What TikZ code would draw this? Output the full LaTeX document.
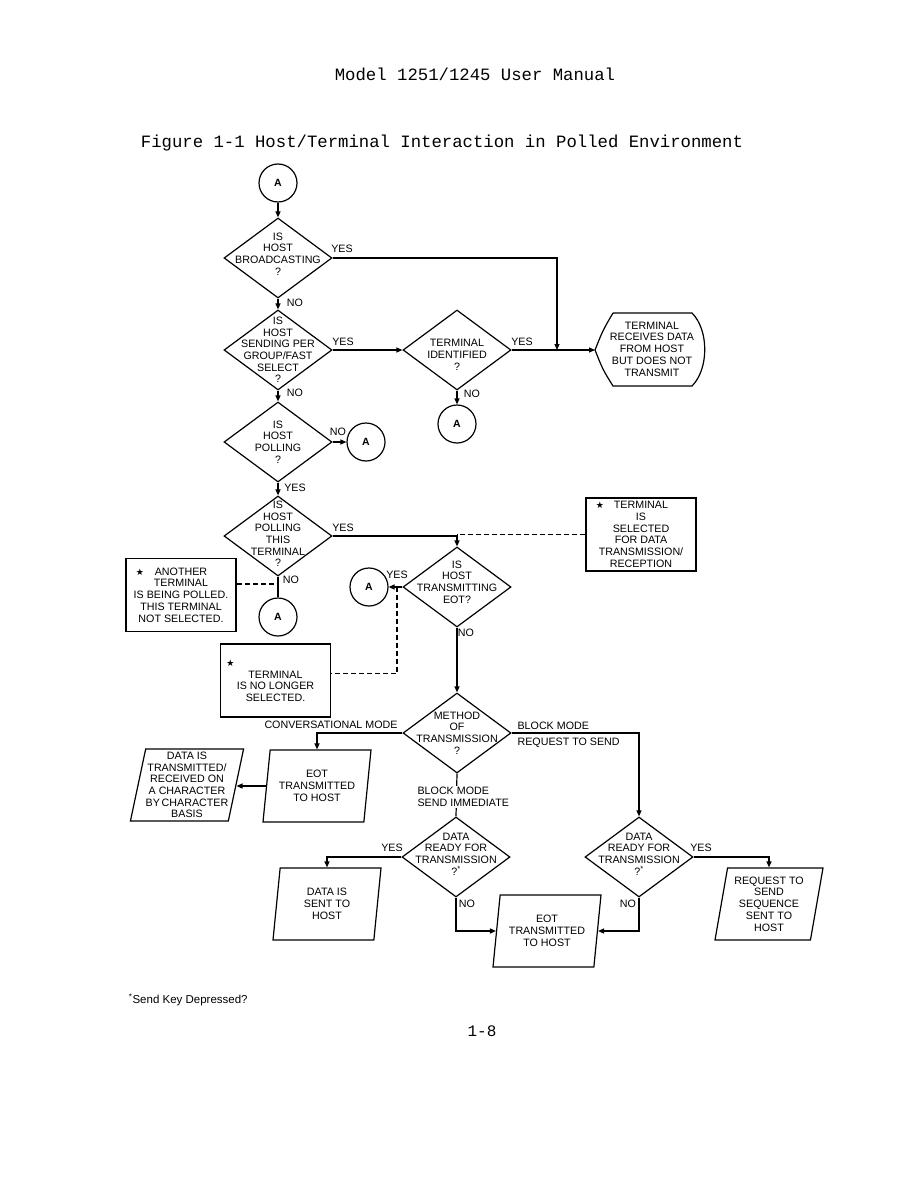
\documentclass[tikz,border=0pt]{standalone}
\usepackage{fontspec}
\setmainfont{Liberation Sans}
\newfontfamily\typew{Liberation Mono}
\newfontfamily\symf{DejaVu Sans}
\usepackage{tikz}
\usetikzlibrary{arrows.meta,shapes.geometric,calc}
\newcommand{\tstar}{{\symf\fontsize{9}{9}\selectfont ★}}

\begin{document}
\begin{tikzpicture}[x=1pt,y=-1pt,line width=1.2pt,>={Triangle[length=6pt,width=5pt]}]
    \tikzset{dec/.style={draw,diamond,minimum width=108pt,minimum height=80pt,inner sep=0pt},
      dtxt/.style={font=\fontsize{10.7}{11.7}\selectfont,align=center,inner sep=0pt},
      con/.style={draw,circle,minimum size=38pt,inner sep=0pt,font=\fontsize{10.5}{10}\selectfont\bfseries},
      io/.style={draw,trapezium,trapezium left angle=77,trapezium right angle=103,trapezium stretches body,
        minimum width=108pt,minimum height=72pt,inner sep=0pt,font=\fontsize{10.7}{11.7}\selectfont,align=center},
      note/.style={draw,rectangle,minimum width=110pt,minimum height=73pt,inner sep=0pt,
        font=\fontsize{10.7}{11.7}\selectfont,align=center},
      lbl/.style={font=\fontsize{10.7}{11.7}\selectfont,inner sep=0pt},
      brk/.style={dash pattern=on 5pt off 3pt}}
    \useasboundingbox (0,0) rectangle (918,1188);
    % page head
    \node[font=\typew\fontsize{17.3}{20}\selectfont] (hdr) at (475,74) {Model 1251/1245 User Manual};
    \node[font=\typew\fontsize{17.3}{20}\selectfont] (cap) at (442,143) {Figure 1-1 Host/Terminal Interaction in Polled Environment};
    % upper decisions
    \node[con] (a1) at (278,183) {A};
    \node[dec] (bcast) at (278,258) {};
    \node[dtxt,yshift=4pt] (bcastT) at (bcast) {IS\\HOST\\BROADCASTING\\?};
    \node[dec] (group) at (278,350) {};
    \node[dtxt] (groupT) at (group) {IS\\HOST\\SENDING PER\\GROUP/FAST\\SELECT\\?};
    \node[dec] (ident) at (457,350) {};
    \node[dtxt,yshift=-5pt] (identT) at (ident) {TERMINAL\\IDENTIFIED\\?};
    \coordinate (recvtip) at (595,350);
    \coordinate (join) at (557,350);
    \node[dtxt] (recvT) at (652,349) {TERMINAL\\RECEIVES DATA\\FROM HOST\\BUT DOES NOT\\TRANSMIT};
    \draw (613,313) -- (692,313) .. controls (709,330) and (709,369) .. (692,386) -- (613,386)
      .. controls (603,370) .. (recvtip) .. controls (603,330) .. (613,313);
    \node[con] (a2) at (457,424) {A};
    \node[dec] (poll) at (278,442) {};
    \node[dtxt] (pollT) at (poll) {IS\\HOST\\POLLING\\?};
    \node[con] (a3) at (366,442) {A};
    \node[dec] (pollthis) at (278,536) {};
    \node[dtxt,yshift=2pt] (pollthisT) at (pollthis) {IS\\HOST\\POLLING\\THIS\\TERMINAL\\?};
    \node[con] (a4) at (278,617) {A};
    \coordinate (noJ) at (278,584);
    \node[note] (another) at (181,595) {\llap{\tstar\hspace{11pt}}ANOTHER\\TERMINAL\\IS BEING POLLED.\\THIS TERMINAL\\NOT SELECTED.};
    \node[note] (selected) at (641,534.5) {\llap{\tstar\hspace{10pt}}TERMINAL\\IS\\SELECTED\\FOR DATA\\TRANSMISSION/\\RECEPTION};
    \node[dec] (eot) at (457,587) {};
    \node[dtxt,yshift=5pt] (eotT) at (eot) {IS\\HOST\\TRANSMITTING\\EOT?};
    \node[con] (a5) at (369,587) {A};
    \coordinate (eotJ) at (397,587);
    \node[note] (nolonger) at (275.5,680.5) {\llap{\raisebox{12pt}{\tstar}\hspace{14pt}}TERMINAL\\IS NO LONGER\\SELECTED.};
    % transmission method
    \node[dec] (method) at (457,733) {};
    \node[dtxt] (methodT) at (method) {METHOD\\OF\\TRANSMISSION\\?};
    \node[io] (eotc) at (317,786) {EOT\\TRANSMITTED\\TO HOST};
    \node[io] (datatx) at (187,785) {DATA IS\\TRANSMITTED/\\RECEIVED ON\\A CHARACTER\\BY\,CHARACTER\\BASIS};
    \node[dec] (ready) at (456,857) {};
    \node[dtxt,yshift=3pt] (readyT) at (ready) {DATA\\READY FOR\\TRANSMISSION\\?\textsuperscript{*}};
    \node[dec] (readyb) at (639,857) {};
    \node[dtxt,yshift=3pt] (readybT) at (readyb) {DATA\\READY FOR\\TRANSMISSION\\?\textsuperscript{*}};
    \node[io] (sent) at (327,904) {DATA IS\\SENT TO\\HOST};
    \node[io] (eotb) at (547,931) {EOT\\TRANSMITTED\\TO HOST};
    \node[io] (rts) at (769,904) {REQUEST TO\\SEND\\SEQUENCE\\SENT TO\\HOST};
    % connectors
    \draw[->] (a1.south) -- (bcast.north);
    \draw[->] (bcast.south) -- (group.north);
    \draw[->] (bcast.east) -| (join);
    \draw[->] (group.east) -- (ident.west);
    \draw[->] (ident.east) -- (recvtip);
    \draw[->] (ident.south) -- (a2.north);
    \draw[->] (group.south) -- (poll.north);
    \draw[->] (poll.east) -- (a3.west);
    \draw[->] (poll.south) -- (pollthis.north);
    \draw (pollthis.south) -- (a4.north);
    \draw[brk] (noJ -| another.east) -- (noJ);
    \draw[->] (pollthis.east) -| (eot.north);
    \draw[brk] (selected.west) -- (selected.west -| eot.north);
    \draw[->] (eot.west) -- (a5.east);
    \draw[brk] (eotJ) |- ([yshift=7pt]nolonger.east);
    \draw[->] (eot.south) -- (method.north);
    \draw[->] (method.west) -| (eotc.north);
    \draw[->] (eotc.west) -- (eotc.west -| datatx.east);
    \draw[->] (method.east) -| (readyb.north);
    \draw (method.south) -- (ready.north);
    \draw[->] (ready.west) -| (sent.north);
    \draw[->] (ready.south) |- (eotb.west);
    \draw[->] (readyb.south) |- (eotb.east);
    \draw[->] (readyb.east) -| (rts.north);
    % branch labels
    \node[lbl] (y1) at (342,249) {YES};
    \node[lbl] (n1) at (295,303) {NO};
    \node[lbl] (y2) at (343,342) {YES};
    \node[lbl] (y3) at (522,342) {YES};
    \node[lbl] (n2) at (472,394) {NO};
    \node[lbl] (n3) at (295,393) {NO};
    \node[lbl] (n4) at (338,432) {NO};
    \node[lbl] (y4) at (295,488) {YES};
    \node[lbl] (y5) at (343,528) {YES};
    \node[lbl] (n5) at (291,580) {NO};
    \node[lbl] (y6) at (397,575) {YES};
    \node[lbl] (n6) at (466,633) {NO};
    \node[lbl] (conv) at (331,725) {CONVERSATIONAL MODE};
    \node[lbl,anchor=west,align=left] (brts) at (517,735) {BLOCK MODE\\[4.3pt]REQUEST TO SEND};
    \node[lbl,anchor=west,align=left,fill=white,inner sep=1pt] (bsend) at (416,797) {BLOCK MODE\\SEND IMMEDIATE};
    \node[lbl] (y8) at (392,848) {YES};
    \node[lbl] (n8) at (467,904) {NO};
    \node[lbl] (n9) at (628,904) {NO};
    \node[lbl] (y9) at (701,848) {YES};
    % foot
    \node[anchor=west,font=\fontsize{11.5}{13}\selectfont] (foot) at (125,1000) {\textsuperscript{*}Send Key Depressed?};
    \node[font=\typew\fontsize{16}{18}\selectfont] (pg) at (482,1031) {1-8};
\end{tikzpicture}
\end{document}
